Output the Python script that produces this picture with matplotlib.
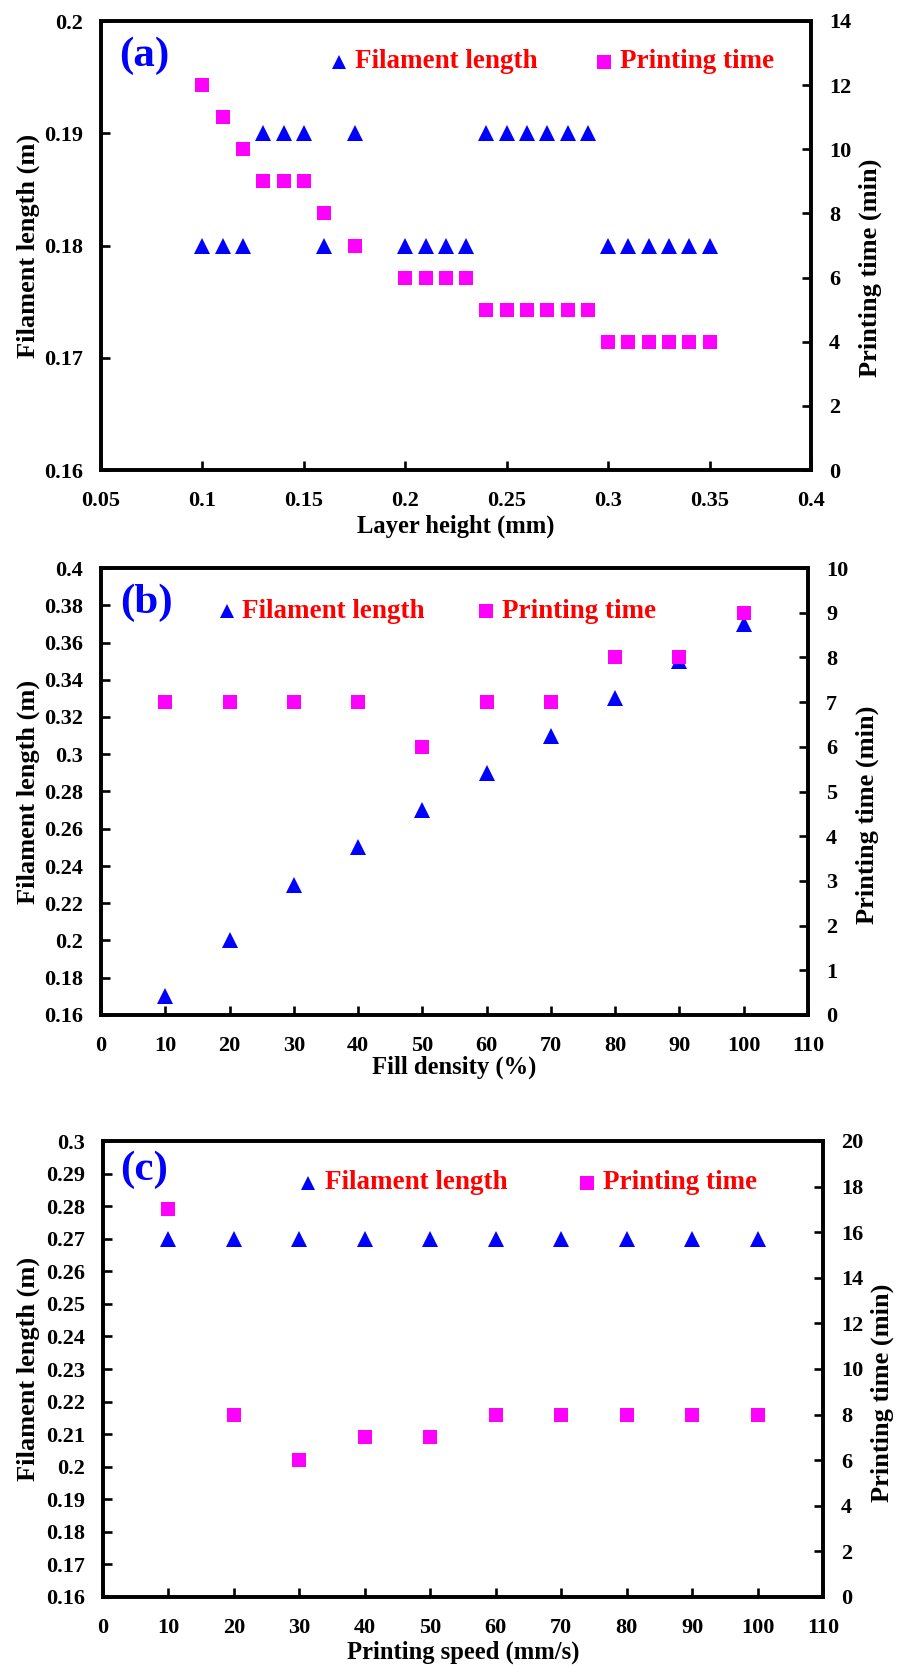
import matplotlib
matplotlib.use("Agg")
import matplotlib.pyplot as plt

plt.rcParams['font.family'] = ['Liberation Serif', 'DejaVu Serif']
plt.rcParams['font.weight'] = 'bold'
plt.rcParams['axes.labelweight'] = 'bold'

# (a) layer height
layer_h = [0.1, 0.11, 0.12, 0.13, 0.14, 0.15, 0.16, 0.175, 0.2, 0.21, 0.22, 0.23,
           0.24, 0.25, 0.26, 0.27, 0.28, 0.29, 0.3, 0.31, 0.32, 0.33, 0.34, 0.35]
layer_fil = [0.18, 0.18, 0.18, 0.19, 0.19, 0.19, 0.18, 0.19, 0.18, 0.18, 0.18, 0.18,
             0.19, 0.19, 0.19, 0.19, 0.19, 0.19, 0.18, 0.18, 0.18, 0.18, 0.18, 0.18]
layer_time = [12, 11, 10, 9, 9, 9, 8, 7, 6, 6, 6, 6,
              5, 5, 5, 5, 5, 5, 4, 4, 4, 4, 4, 4]

# (b) fill density
fill = [10, 20, 30, 40, 50, 60, 70, 80, 90, 100]
fill_fil = [0.17, 0.20, 0.23, 0.25, 0.27, 0.29, 0.31, 0.33, 0.35, 0.37]
fill_time = [7, 7, 7, 7, 6, 7, 7, 8, 8, 9]

# (c) printing speed
speed = [10, 20, 30, 40, 50, 60, 70, 80, 90, 100]
speed_fil = [0.27, 0.27, 0.27, 0.27, 0.27, 0.27, 0.27, 0.27, 0.27, 0.27]
speed_time = [17, 8, 6, 7, 7, 8, 8, 8, 8, 8]

BLUE = '#0000ff'
MAGENTA = '#ff00ff'
RED = '#ff0000'

fig = plt.figure(figsize=(9, 16.66), dpi=100)

panels = [
    dict(rect=[101, 21, 811, 470], x=layer_h, fil=layer_fil, t=layer_time,
         xlim=(0.05, 0.4), xticks=[0.05, 0.1, 0.15, 0.2, 0.25, 0.3, 0.35, 0.4],
         xtl=['0.05', '0.1', '0.15', '0.2', '0.25', '0.3', '0.35', '0.4'],
         ylim=(0.16, 0.2), yticks=[0.16, 0.17, 0.18, 0.19, 0.2],
         ytl=['0.16', '0.17', '0.18', '0.19', '0.2'],
         tlim=(0, 14), tticks=[0, 2, 4, 6, 8, 10, 12, 14],
         xlabel='Layer height (mm)', tag='(a)',
         xl=(0.5, -0.125), yl=(-0.1028, 0.499), tl=(1.0831, 0.4499),
         tagpos=(0.0606, 0.923), leg=(0.3352, 0.3577, 0.7085, 0.731, 0.9087)),
    dict(rect=[101, 568, 808, 1015], x=fill, fil=fill_fil, t=fill_time,
         xlim=(0, 110), xticks=list(range(0, 111, 10)),
         xtl=[str(v) for v in range(0, 111, 10)],
         ylim=(0.16, 0.4), yticks=[0.16 + 0.02 * i for i in range(13)],
         ytl=['0.16', '0.18', '0.2', '0.22', '0.24', '0.26', '0.28', '0.3',
              '0.32', '0.34', '0.36', '0.38', '0.4'],
         tlim=(0, 10), tticks=list(range(0, 11)),
         xlabel='Fill density (%)', tag='(b)',
         xl=(0.5, -0.117), yl=(-0.1033, 0.499), tl=(1.0835, 0.4474),
         tagpos=(0.0644, 0.9228), leg=(0.1782, 0.1994, 0.5446, 0.5672, 0.9038)),
    dict(rect=[103, 1141, 823, 1597], x=speed, fil=speed_fil, t=speed_time,
         xlim=(0, 110), xticks=list(range(0, 111, 10)),
         xtl=[str(v) for v in range(0, 111, 10)],
         ylim=(0.16, 0.3), yticks=[0.16 + 0.01 * i for i in range(15)],
         ytl=['0.16', '0.17', '0.18', '0.19', '0.2', '0.21', '0.22', '0.23',
              '0.24', '0.25', '0.26', '0.27', '0.28', '0.29', '0.3'],
         tlim=(0, 20), tticks=list(range(0, 21, 2)),
         xlabel='Printing speed (mm/s)', tag='(c)',
         xl=(0.5, -0.1206), yl=(-0.1042, 0.5), tl=(1.082, 0.4474),
         tagpos=(0.0576, 0.9364), leg=(0.2847, 0.3083, 0.6722, 0.6944, 0.9079)),
]

W, H = 900, 1666
for p in panels:
    x0, y0, x1, y1 = p['rect']
    ax = fig.add_axes([x0 / W, 1 - y1 / H, (x1 - x0) / W, (y1 - y0) / H])
    ax2 = ax.twinx()

    ax.plot(p['x'], p['fil'], '^', color=BLUE, ms=11.5, mew=0, clip_on=False, zorder=3)
    ax2.plot(p['x'], p['t'], 's', color=MAGENTA, ms=10, mew=0, clip_on=False, zorder=3)

    ax.set_xlim(*p['xlim'])
    ax.set_ylim(*p['ylim'])
    ax2.set_ylim(*p['tlim'])
    ax.set_xticks(p['xticks'])
    ax.set_xticklabels(p['xtl'])
    ax.set_yticks(p['yticks'])
    ax.set_yticklabels(p['ytl'])
    ax2.set_yticks(p['tticks'])

    for a in (ax, ax2):
        for s in a.spines.values():
            s.set_linewidth(2.6)
        a.tick_params(direction='in', length=6.5, width=1.9, labelsize=16, pad=13)
    ax.tick_params(axis='x', pad=15)

    ax.set_xlabel(p['xlabel'], fontsize=17.7, fontweight='bold')
    ax.set_ylabel('Filament length (m)', fontsize=19, fontweight='bold')
    ax2.set_ylabel('Printing time (min)', fontsize=19, fontweight='bold')
    ax.xaxis.set_label_coords(*p['xl'])
    ax.yaxis.set_label_coords(*p['yl'])
    ax2.yaxis.set_label_coords(*p['tl'])
    for lab in (ax.xaxis.label, ax.yaxis.label, ax2.yaxis.label):
        lab.set_verticalalignment('center')
        lab.set_horizontalalignment('center')

    ax.text(*p['tagpos'], p['tag'], transform=ax.transAxes, color=BLUE,
            fontsize=31, fontweight='bold', ha='center', va='center')

    # legend drawn by hand: marker + red label for each series
    mx1, tx1, mx2, tx2, ly = p['leg']
    ax.plot([mx1], [ly], '^', color=BLUE, ms=10, mew=0, transform=ax.transAxes,
            clip_on=False)
    ax.text(tx1, ly, 'Filament length', color=RED, fontsize=19.5, fontweight='bold',
            transform=ax.transAxes, ha='left', va='center')
    ax.plot([mx2], [ly], 's', color=MAGENTA, ms=10, mew=0, transform=ax.transAxes,
            clip_on=False)
    ax.text(tx2, ly, 'Printing time', color=RED, fontsize=19.5, fontweight='bold',
            transform=ax.transAxes, ha='left', va='center')

fig.savefig('out.png', dpi=100)
